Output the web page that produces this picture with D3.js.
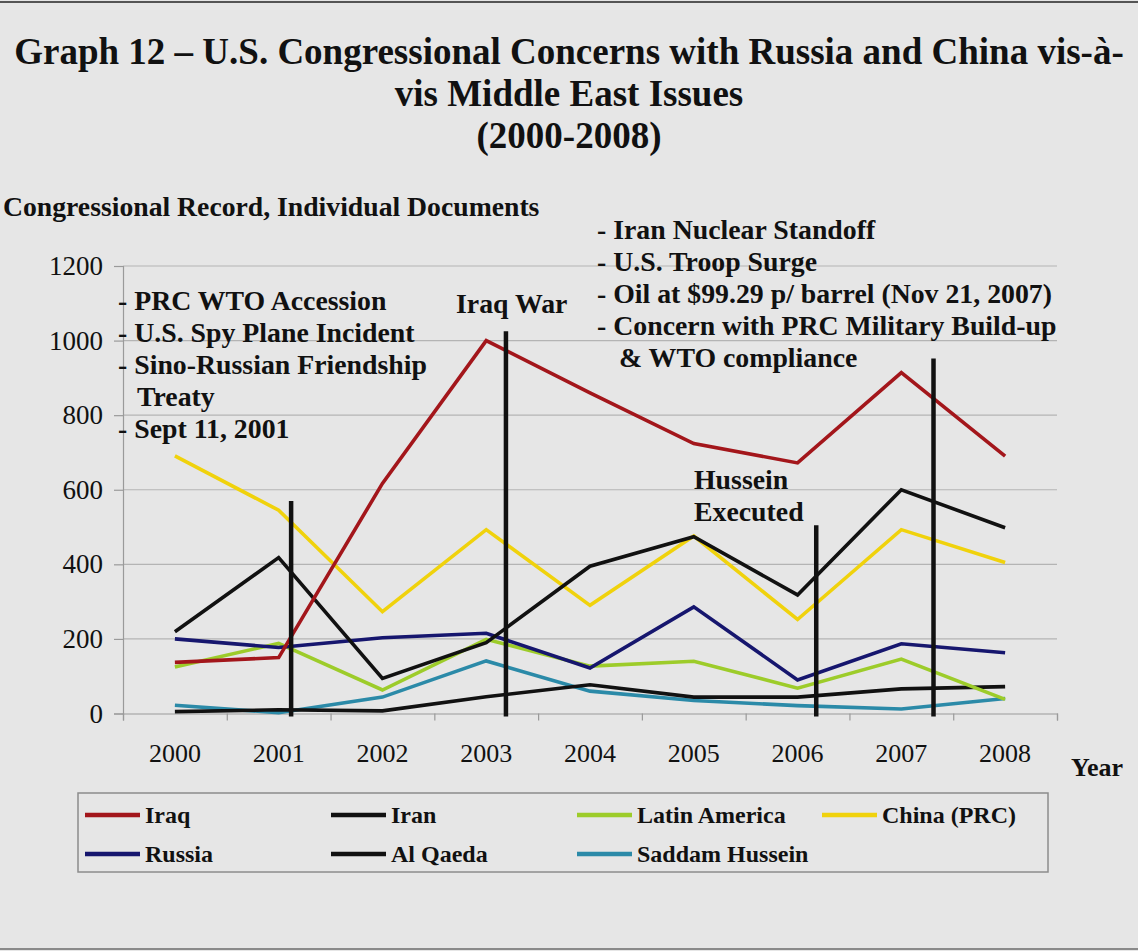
<!DOCTYPE html>
<html>
<head>
<meta charset="utf-8">
<script src="https://cdn.jsdelivr.net/npm/d3@7"></script>
<style>
  html, body { margin: 0; padding: 0; background: #e6e6e6; }
  svg { display: block; }
  text { font-family: "Liberation Serif", "Times New Roman", serif; fill: #111; }
</style>
</head>
<body>
<svg id="chart" width="1138" height="951"></svg>
<script>
// Congressional Record document counts per year, by topic
const years = [2000, 2001, 2002, 2003, 2004, 2005, 2006, 2007, 2008];
const iraq          = [137, 150, 617, 1000, 860, 724, 672, 914, 690];
const iran          = [219, 418, 94, 190, 395, 474, 318, 600, 498];
const latinAmerica  = [125, 188, 63, 199, 127, 140, 68, 146, 38];
const china         = [691, 545, 273, 493, 290, 476, 252, 493, 405];
const russia        = [200, 177, 203, 215, 122, 286, 90, 187, 163];
const alQaeda       = [5, 10, 7, 45, 77, 44, 44, 66, 72];
const saddamHussein = [22, 2, 44, 141, 60, 35, 21, 12, 40];

const seriesNames  = ["Iraq", "Iran", "Latin America", "China (PRC)", "Russia", "Al Qaeda", "Saddam Hussein"];
const seriesValues = [iraq, iran, latinAmerica, china, russia, alQaeda, saddamHussein];
const seriesColors = ["#a3161b", "#111111", "#9dcc2a", "#f0d20c", "#16166e", "#111111", "#2b8aa8"];

const yTicks = [0, 200, 400, 600, 800, 1000, 1200];

// Events marked with vertical lines: position in fractional years, height in documents
const eventAt  = [2001.12, 2003.19, 2006.18, 2007.31];
const eventTop = [570, 1025, 505, 952];

const svg = d3.select("#chart");
const W = 1138, H = 951;
const plot = { left: 123, right: 1057, top: 266, bottom: 713.5 };

svg.append("rect").attr("width", W).attr("height", H).attr("fill", "#e6e6e6");
// page edges of the scanned sheet
svg.append("line").attr("x1", 0).attr("x2", W).attr("y1", 2).attr("y2", 2)
  .attr("stroke", "#555").attr("stroke-width", 2);
svg.append("line").attr("x1", 0).attr("x2", W).attr("y1", 949).attr("y2", 949)
  .attr("stroke", "#8a8a8a").attr("stroke-width", 2);

const x = d3.scaleLinear().domain([1999.5, 2008.5]).range([plot.left, plot.right]);
const y = d3.scaleLinear().domain([0, 1200]).range([plot.bottom, plot.top]);

// Title
const title = svg.append("text").attr("text-anchor", "middle")
  .style("font-weight", "bold").style("font-size", "37px");
[["Graph 12 \u2013 U.S. Congressional Concerns with Russia and China vis-\u00e0-", 64],
 ["vis Middle East Issues", 106],
 ["(2000-2008)", 148]].forEach(([t, yy]) => {
  title.append("tspan").attr("x", W / 2).attr("y", yy).text(t);
});

// Y axis title
svg.append("text").attr("x", 3).attr("y", 216)
  .style("font-weight", "bold").style("font-size", "27.7px")
  .text("Congressional Record, Individual Documents");

// Gridlines
svg.append("g").selectAll("line").data(yTicks.filter(d => d > 0)).join("line")
  .attr("x1", plot.left).attr("x2", plot.right)
  .attr("y1", d => y(d)).attr("y2", d => y(d))
  .attr("stroke", "#b4b4b4").attr("stroke-width", 1.2);

// Y axis
const yAxis = svg.append("g").attr("transform", `translate(${plot.left},0)`)
  .call(d3.axisLeft(y).tickValues(yTicks).tickFormat(d3.format("d")).tickSize(9).tickPadding(11));
yAxis.select(".domain").attr("stroke", "#9a9a9a").attr("stroke-width", 1.2);
yAxis.selectAll(".tick line").attr("stroke", "#9a9a9a").attr("stroke-width", 1.2);
yAxis.selectAll(".tick text").style("font-size", "27px").attr("fill", "#111")
  .style("font-family", "'Liberation Serif', serif");

// X axis: ticks on band boundaries, labels at year centres
const boundaries = d3.range(0, years.length + 1).map(i => years[0] - 0.5 + i);
const xAxis = svg.append("g").attr("transform", `translate(0,${plot.bottom})`)
  .call(d3.axisBottom(x).tickValues(boundaries).tickSize(7).tickFormat(""));
xAxis.select(".domain").attr("stroke", "#9a9a9a").attr("stroke-width", 1.2);
xAxis.selectAll(".tick line").attr("stroke", "#9a9a9a").attr("stroke-width", 1.2);

svg.append("g").selectAll("text").data(years).join("text")
  .attr("x", d => x(d)).attr("y", 762).attr("text-anchor", "middle")
  .style("font-size", "26px").text(d => d);

svg.append("text").attr("x", 1071).attr("y", 776)
  .style("font-weight", "bold").style("font-size", "26px").text("Year");

// Series lines
const line = d3.line().x((d, i) => x(years[i])).y(d => y(d));
const drawOrder = [6, 5, 2, 4, 3, 1, 0];
svg.append("g").selectAll("path").data(drawOrder).join("path")
  .attr("d", k => line(seriesValues[k]))
  .attr("fill", "none")
  .attr("stroke", k => seriesColors[k])
  .attr("stroke-width", 3.6)
  .attr("stroke-linejoin", "miter");

// Event markers
svg.append("g").selectAll("line").data(eventAt).join("line")
  .attr("x1", d => x(d)).attr("x2", d => x(d))
  .attr("y1", (d, i) => y(eventTop[i])).attr("y2", y(-8))
  .attr("stroke", "#111").attr("stroke-width", 4.5);

// Annotations
const notes = [
  ["- PRC WTO Accession", 118, 310],
  ["- U.S. Spy Plane Incident", 118, 342],
  ["- Sino-Russian Friendship", 118, 374],
  ["Treaty", 137, 406],
  ["- Sept 11, 2001", 118, 438],
  ["Iraq War", 456, 313],
  ["- Iran Nuclear Standoff", 597, 239],
  ["- U.S. Troop Surge", 597, 271],
  ["- Oil at $99.29 p/ barrel (Nov 21, 2007)", 597, 303],
  ["- Concern with PRC Military Build-up", 597, 335],
  ["& WTO compliance", 619, 367],
  ["Hussein", 694, 489],
  ["Executed", 694, 521]
];
svg.append("g").selectAll("text").data(notes).join("text")
  .attr("x", d => d[1]).attr("y", d => d[2])
  .style("font-weight", "bold").style("font-size", "27.8px")
  .text(d => d[0]);

// Legend
const legend = svg.append("g");
legend.append("rect").attr("x", 78).attr("y", 793).attr("width", 970).attr("height", 79)
  .attr("fill", "none").attr("stroke", "#8c8c8c").attr("stroke-width", 1.5);
const colX = [85, 331, 577, 822];
const rowY = [815, 854];
const items = legend.selectAll("g.item").data(seriesNames).join("g").attr("class", "item")
  .attr("transform", (d, i) => `translate(${colX[i % 4]},${rowY[Math.floor(i / 4)]})`);
items.append("line").attr("x1", 0).attr("x2", 55).attr("y1", 0).attr("y2", 0)
  .attr("stroke", (d, i) => seriesColors[i]).attr("stroke-width", 4.5);
items.append("text").attr("x", 60).attr("y", 8)
  .style("font-weight", "bold").style("font-size", "24px").text(d => d);
</script>
</body>
</html>
